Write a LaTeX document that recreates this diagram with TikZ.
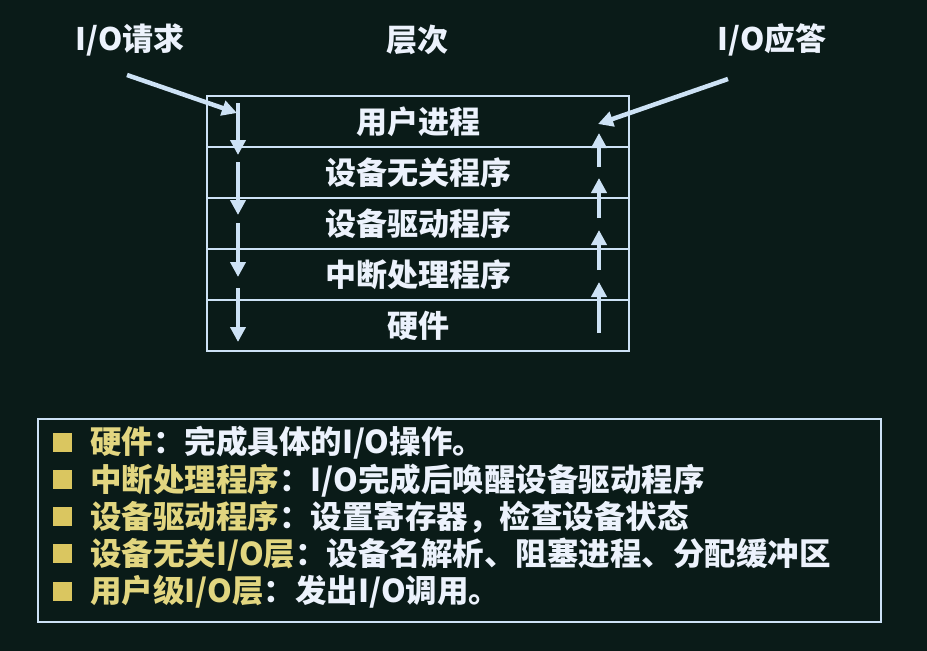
\documentclass[tikz,border=0pt]{standalone}
\usepackage{fontspec}
\setmainfont{Noto Sans CJK SC}
\usepackage{xcolor}
\usetikzlibrary{positioning,arrows.meta}
\definecolor{bg}{RGB}{10,27,24}
\definecolor{edge}{RGB}{205,226,245}
\definecolor{txt}{RGB}{236,242,252}
\definecolor{yel}{RGB}{218,198,96}
\definecolor{yeltxt}{RGB}{226,214,128}

\begin{document}
\begin{tikzpicture}[x=1pt,y=-1pt,
  layer/.style={draw=edge,line width=2.8pt,minimum width=422pt,minimum height=51pt,
    outer sep=0pt,inner sep=0pt,text=txt,font=\fontsize{31}{31}\selectfont\bfseries},
  flow/.style={draw=edge,line width=4.5pt,-{Triangle[width=15pt,length=15pt]}},
  head/.style={text=txt,font=\fontsize{31}{31}\selectfont\bfseries},
  dot/.style={fill=yel,minimum size=19pt,inner sep=0pt},
  item/.style={anchor=west,inner sep=0pt,text=txt,font=\fontsize{31.5}{31.5}\selectfont\bfseries}]
\fill [bg] (0,0) rectangle (927,651);
% headings
\node [head] (req) at (130,40) {I/O请求};
\node [head] (lvl) at (417,40) {层次};
\node [head] (ans) at (772,40) {I/O应答};
% layers
\node [layer] (r1) at (418,121.5) {用户进程};
\node [layer,below=0pt of r1] (r2) {设备无关程序};
\node [layer,below=0pt of r2] (r3) {设备驱动程序};
\node [layer,below=0pt of r3] (r4) {中断处理程序};
\node [layer,below=0pt of r4] (r5) {硬件};
% request and answer
\coordinate (reqs) at (127,75);
\coordinate (reqe) at (237,113);
\draw [flow] (reqs) -- (reqe);
\coordinate (anss) at (728,79);
\coordinate (anse) at (598,124);
\draw [flow] (anss) -- (anse);
\foreach \a/\b [count=\i] in {103/155,162/215,223/277,288/342}{
  \coordinate (dtop\i) at (238,\a);
  \coordinate (dbot\i) at (238,\b);
  \draw [flow] (dtop\i) -- (dbot\i);
}
\foreach \a/\b [count=\i] in {333/282,270/230,218/178,167/133}{
  \coordinate (ubot\i) at (599,\a);
  \coordinate (utop\i) at (599,\b);
  \draw [flow] (ubot\i) -- (utop\i);
}
% notes
\node [draw=edge,line width=2.8pt,minimum width=843pt,minimum height=203pt,outer sep=0pt] (notes) at (459.5,520.5) {};
\foreach \k/\v [count=\i] in {{硬件}/{完成具体的I/O操作。},
    {中断处理程序}/{I/O完成后唤醒设备驱动程序},
    {设备驱动程序}/{设置寄存器，检查设备状态},
    {设备无关I/O层}/{设备名解析、阻塞进程、分配缓冲区},
    {用户级I/O层}/{发出I/O调用。}}{
  \node [dot] (dot\i) at (62,{442+37.3*(\i-1)}) {};
  \node [item] (item\i) at (90,{443+37.3*(\i-1)}) {\textcolor{yeltxt}{\k}：\v};
}
\end{tikzpicture}
\end{document}
